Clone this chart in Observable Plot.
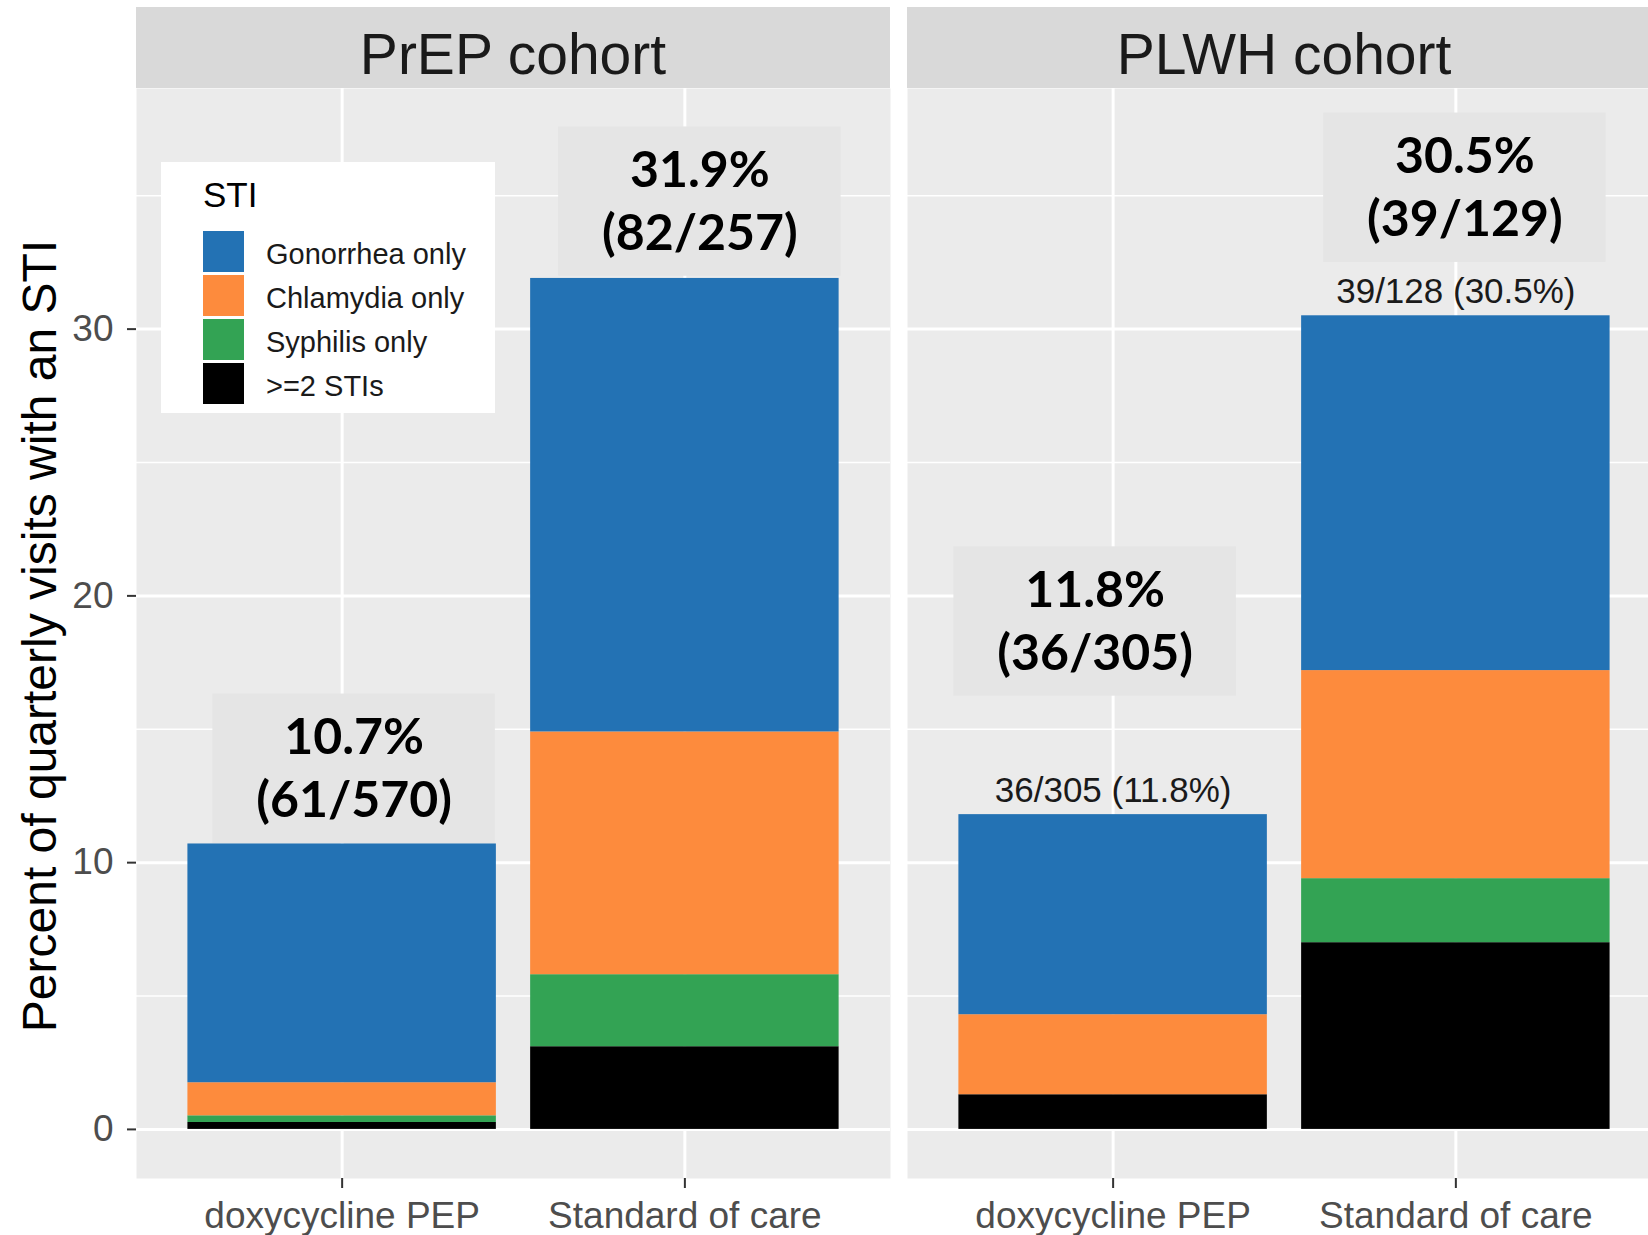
<!DOCTYPE html>
<html>
<head>
<meta charset="utf-8">
<script src="https://cdn.jsdelivr.net/npm/d3@7"></script>
<script src="https://cdn.jsdelivr.net/npm/@observablehq/plot@0.6"></script>
<style>
  html, body { margin: 0; padding: 0; background: #ffffff; }
  #wrap { position: relative; width: 1648px; height: 1235px; overflow: hidden; background: #ffffff; font-family: 'Liberation Sans', Arial, sans-serif; }
  #chart { position: absolute; left: 0; top: 0; }
  .strip { position: absolute; top: 7px; height: 81px; width: 754px; background: #d9d9d9; }
  .strip span { position: absolute; left: 0; right: 0; text-align: center; top: 19px; font-size: 57px; line-height: 1; color: #1a1a1a; white-space: nowrap; }
  #legend { position: absolute; left: 161px; top: 162px; width: 334px; height: 251px; background: #ffffff; }
  #legend .ttl { position: absolute; left: 42px; top: 15px; font-size: 35px; line-height: 1; color: #000; }
  #legend .key { position: absolute; left: 42px; width: 41px; height: 41px; }
  #legend .lab { position: absolute; left: 105px; font-size: 29px; line-height: 1; color: #1a1a1a; white-space: nowrap; }
  #ytitle { position: absolute; left: 40px; top: 636px; transform: translate(-50%, -50%) rotate(-90deg); font-size: 48px; line-height: 1; color: #000; white-space: nowrap; }
</style>
</head>
<body>
<div id="wrap">
  <div id="chart"></div>
</div>
<script>
// ---------------- data ----------------
const cohorts = ["PrEP cohort", "PLWH cohort"];
const arms = ["doxycycline PEP", "Standard of care"];
const stiTypes = ["Gonorrhea only", "Chlamydia only", "Syphilis only", ">=2 STIs"];
const stiColors = ["#2372b4", "#fd8b3d", "#33a354", "#000000"];

// bars in order: PrEP-doxyPEP, PrEP-SOC, PLWH-doxyPEP, PLWH-SOC
const barCohort = ["PrEP cohort", "PrEP cohort", "PLWH cohort", "PLWH cohort"];
const barArm = ["doxycycline PEP", "Standard of care", "doxycycline PEP", "Standard of care"];
const gonorrhea = [8.95, 17.0, 7.5, 13.3];
const chlamydia = [1.24, 9.1, 3.0, 7.8];
const syphilis  = [0.25, 2.7, 0.0, 2.4];
const multiSTI  = [0.26, 3.1, 1.3, 7.0];

// boxed summary annotations
const summaryPct = [10.7, 31.9, 11.8, 30.5];
const summaryCases = [61, 82, 36, 39];
const summaryVisits = [570, 257, 305, 129];

// small labels above PLWH bars
const smallCases  = [null, null, 36, 39];
const smallVisits = [null, null, 305, 128];
const smallPct    = [null, null, 11.8, 30.5];

const yTicks = [0, 10, 20, 30];
const yMinor = [5, 15, 25, 35];

// ---------------- layout (not data) ----------------
const annotBottom = [10.72, 31.98, 16.24, 32.5];
const annotHeight = 5.6;
const annotDx = [12, 15, -18, 9];

// ---------------- build tables ----------------
const seriesByType = {
  ">=2 STIs": multiSTI,
  "Syphilis only": syphilis,
  "Chlamydia only": chlamydia,
  "Gonorrhea only": gonorrhea
};
const stackOrder = [">=2 STIs", "Syphilis only", "Chlamydia only", "Gonorrhea only"];
const rows = [];
barCohort.forEach((c, i) => {
  stackOrder.forEach(t => rows.push({cohort: c, arm: barArm[i], sti: t, value: seriesByType[t][i]}));
});
const totals = barCohort.map((c, i) => d3.sum(stackOrder, t => seriesByType[t][i]));

const annots = barCohort.map((c, i) => ({
  cohort: c, arm: barArm[i],
  bottom: annotBottom[i], top: annotBottom[i] + annotHeight,
  label: `${summaryPct[i].toFixed(1)}%\n(${summaryCases[i]}/${summaryVisits[i]})`
}));

const smalls = barCohort.map((c, i) => ({
  cohort: c, arm: barArm[i], y: totals[i],
  label: smallCases[i] == null ? null : `${smallCases[i]}/${smallVisits[i]} (${smallPct[i].toFixed(1)}%)`
})).filter(d => d.label);

const annotMarks = [];
annots.forEach((a, i) => {
  annotMarks.push(Plot.barY([a], {fx: "cohort", x: "arm", y1: "bottom", y2: "top", fill: "#e5e5e5", insetLeft: 13, insetRight: 13, dx: annotDx[i]}));
  annotMarks.push(Plot.text([a], {fx: "cohort", x: "arm", y: "top", text: "label", lineAnchor: "top", lineHeight: 1.26, dy: 15, dx: annotDx[i], fontSize: 50, fontWeight: "bold", fontFamily: "Lato, 'Open Sans', sans-serif", fill: "#000"}));
});

const chart = Plot.plot({
  width: 1661,
  height: 1235,
  marginLeft: 136,
  marginRight: 0,
  marginTop: 88,
  marginBottom: 57,
  style: {fontFamily: "'Liberation Sans', Arial, sans-serif", maxWidth: "none", background: "transparent", overflow: "visible"},
  fx: {domain: cohorts, paddingInner: 0.022, paddingOuter: 0, round: false, axis: null, label: null},
  x: {domain: arms, paddingInner: 0.1, paddingOuter: 0.15, round: false, label: null},
  y: {domain: [-1.84, 39.02], label: null},
  color: {domain: stiTypes, range: stiColors},
  marks: [
    Plot.frame({fill: "#ebebeb", stroke: "none"}),
    Plot.gridY(yMinor, {stroke: "#ffffff", strokeOpacity: 1, strokeWidth: 1.6}),
    Plot.gridY(yTicks, {stroke: "#ffffff", strokeOpacity: 1, strokeWidth: 3}),
    Plot.gridX({stroke: "#ffffff", strokeOpacity: 1, strokeWidth: 3}),
    Plot.barY(rows, {fx: "cohort", x: "arm", y: "value", fill: "sti"}),
    ...annotMarks,
    Plot.text(smalls, {fx: "cohort", x: "arm", y: "y", text: "label", lineAnchor: "bottom", dy: -13, fontSize: 35, fill: "#1a1a1a"}),
    Plot.axisY(yTicks, {tickSize: 9, tickPadding: 14, fontSize: 37, stroke: "#333333", fill: "#4d4d4d", strokeWidth: 2, label: null}),
    Plot.axisX({tickSize: 10, tickPadding: 13, fontSize: 37, stroke: "#333333", fill: "#4d4d4d", strokeWidth: 2, label: null})
  ]
});
document.getElementById("chart").appendChild(chart);

// facet strips
const wrap = document.getElementById("wrap");
const stripLeft = [136, 907];
cohorts.forEach((c, i) => {
  const s = document.createElement("div");
  s.className = "strip";
  s.style.left = stripLeft[i] + "px";
  const t = document.createElement("span");
  t.textContent = c;
  s.appendChild(t);
  wrap.appendChild(s);
});

// legend
const lg = document.createElement("div");
lg.id = "legend";
const ttl = document.createElement("div");
ttl.className = "ttl"; ttl.textContent = "STI";
lg.appendChild(ttl);
stiTypes.forEach((t, i) => {
  const k = document.createElement("div");
  k.className = "key";
  k.style.top = (69 + 44 * i) + "px";
  k.style.background = stiColors[i];
  lg.appendChild(k);
  const l = document.createElement("div");
  l.className = "lab";
  l.style.top = (78 + 44 * i) + "px";
  l.textContent = t;
  lg.appendChild(l);
});
wrap.appendChild(lg);

// y-axis title
const yt = document.createElement("div");
yt.id = "ytitle";
yt.textContent = "Percent of quarterly visits with an STI";
wrap.appendChild(yt);
</script>
</body>
</html>
